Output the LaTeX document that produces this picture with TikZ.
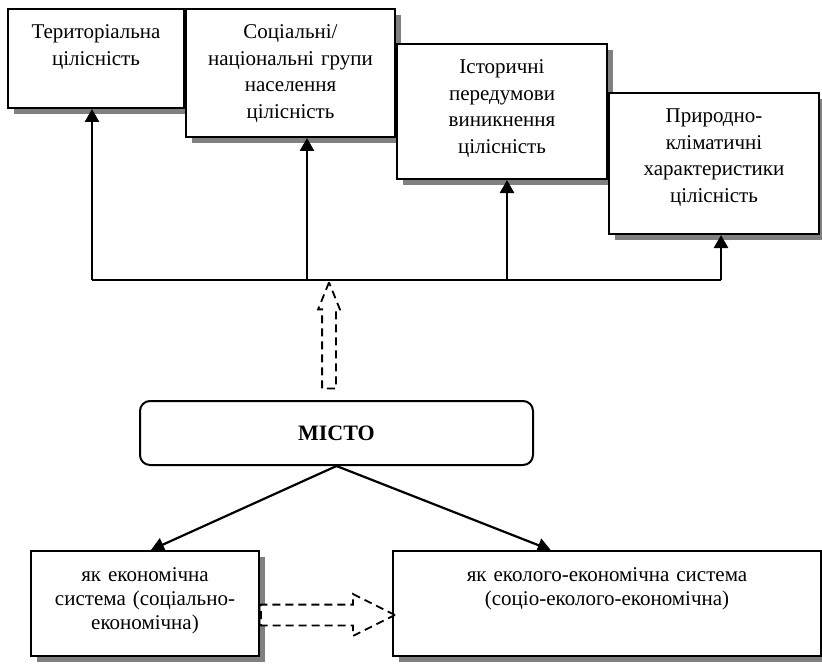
\documentclass[tikz,border=0pt]{standalone}
\usepackage{fontspec}
\setmainfont{Liberation Serif}
\usetikzlibrary{arrows.meta, positioning, calc, shadows, shapes.arrows}

\begin{document}
\begin{tikzpicture}[
  x=0.5pt, y=-0.5pt,
  box/.style={
    rectangle,
    draw,
    line width=1pt,
    fill=white,
    inner sep=0pt,
    align=center,
    text height=15pt,
    drop shadow={shadow xshift=3pt, shadow yshift=-3pt, fill=gray, opacity=1}
  },
  city/.style={
    rectangle,
    draw,
    rounded corners=5pt,
    line width=1pt,
    minimum width=196.5pt,
    minimum height=32pt,
    font=\fontsize{11}{13}\selectfont\bfseries
  },
  hollow/.style={
    single arrow,
    draw,
    fill=white,
    dash pattern=on 4pt off 2.5pt,
    line width=0.9pt
  },
  every node/.style={font=\fontsize{10.5}{13.2}\selectfont},
  arrow/.style={-{Triangle[length=6.5pt,width=7pt]}, line width=1.3pt},
  thinarrow/.style={-{Triangle[length=6.5pt,width=7pt]}, line width=1.1pt}
]

\useasboundingbox (0,0) rectangle (822,663);

% ============================================================
% Top: the four kinds of integrity
% ============================================================

\node[box, text width=88pt, text depth=34.5pt, anchor=north west] (terr) at (7,8) {
Територіальна\\ цілісність
};
\node[box, text width=104.5pt, text depth=49pt, anchor=north west] (soc) at (terr.north east) {
Соціальні/\\ національні групи\\ населення\\ цілісність
};
\node[box, text width=105pt, text depth=52.5pt, below right=17.5pt and 0pt of soc.north east, anchor=north west] (hist) {
Історичні\\ передумови\\ виникнення\\ цілісність
};
\node[box, text width=105pt, text depth=55.5pt, below right=24.5pt and 0pt of hist.north east, anchor=north west] (nat) {
Природно-\\ кліматичні\\ характеристики\\ цілісність
};

% Bus line
\coordinate (b1) at (92,280);
\coordinate (b2) at (307,280);
\coordinate (b3) at (507,280);
\coordinate (b4) at (721,280);

\draw[line width=1.3pt] (b1) -- (b4);

\draw[arrow] (b1) -- (b1 |- terr.south);
\draw[arrow] (b2) -- (b2 |- soc.south);
\draw[arrow] (b3) -- (b3 |- hist.south);
\draw[arrow] (b4) -- (b4 |- nat.south);

% ============================================================
% Middle: the city
% ============================================================

\node[city] (city) at (336.5,433) {МІСТО};

\node[hollow, shape border rotate=90, inner sep=3pt, minimum height=53pt, minimum width=10pt,
  single arrow head extend=2pt, single arrow tip angle=44, anchor=tip] (up) at (329,280) {};

% ============================================================
% Bottom: the city as a system
% ============================================================

\node[box, text width=114pt, text depth=37.5pt, anchor=north west,
  font=\fontsize{10.5}{12}\selectfont] (econ) at (30,550) {
як економічна\\ система (соціально-\\ економічна)
};
\node[box, text width=214pt, text depth=37.5pt, anchor=north west,
  font=\fontsize{10.5}{12}\selectfont] (eco) at (392,550) {
як еколого-економічна система\\ (соціо-еколого-економічна)
};

\draw[thinarrow] (city.south) -- ($(econ.north west)!0.526!(econ.north east)$);
\draw[thinarrow] (city.south) -- ($(eco.north west)!0.369!(eco.north east)$);

\node[hollow, inner sep=4.75pt, minimum height=67pt, minimum width=20pt,
  single arrow head extend=5.25pt, single arrow tip angle=53, anchor=tail] (shift) at ($(econ.east)+(0,11.5)$) {};

\end{tikzpicture}
\end{document}
